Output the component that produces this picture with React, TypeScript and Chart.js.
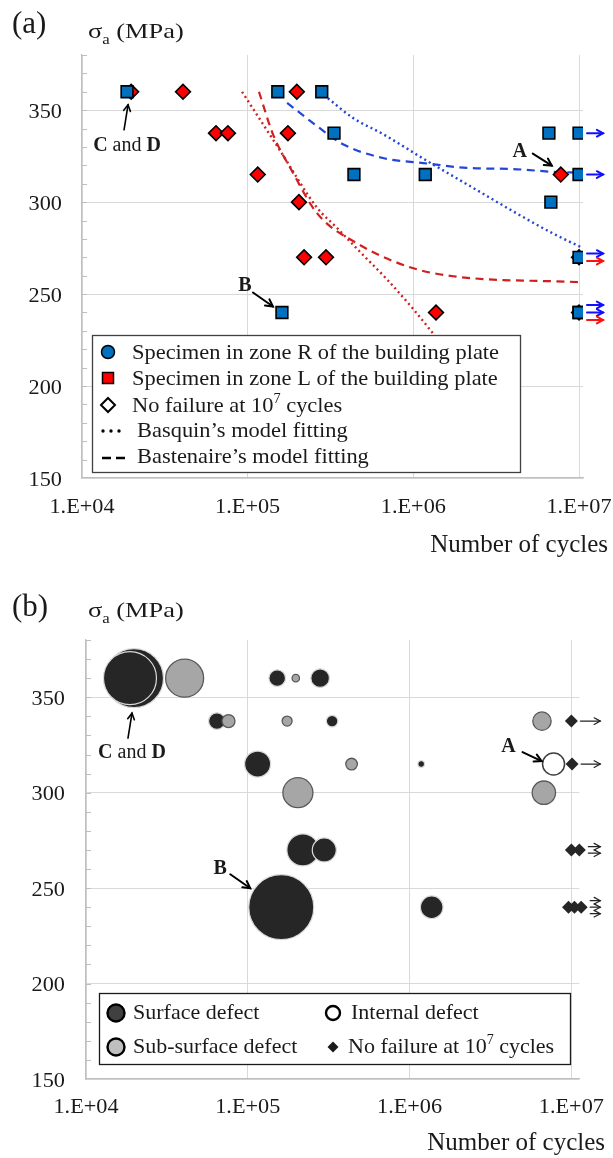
import React, { useEffect, useRef } from 'react';
import { Chart, registerables } from 'chart.js';
Chart.register(...registerables);

// ---------------- Chart (a) data ----------------
const zoneRCycles = [1.87e4, 1.52e5, 2.8e5, 3.32e5, 4.38e5, 1.18e6, 6.58e6, 6.76e6, 1.61e5, 1e7, 1e7, 1e7, 1e7, 1e7];
const zoneRStress = [360, 360, 360, 337.5, 315, 315, 337.5, 300, 240, 337.5, 315, 270, 240, 240];
const zoneLCycles = [1.98e4, 4.07e4, 6.44e4, 7.6e4, 1.15e5, 1.75e5, 1.98e5, 2.04e5, 2.19e5, 2.97e5, 1.37e6, 7.76e6, 1e7, 1e7];
const zoneLStress = [360, 360, 337.5, 337.5, 315, 337.5, 360, 300, 270, 270, 240, 315, 270, 240];

const basquinRCycles = [3.05e5, 4.33e5, 6.56e5, 1.21e6, 2.29e6, 4.22e6, 6.95e6, 1.055e7];
const basquinRStress = [356.5, 345.7, 337, 322.4, 307.8, 293.8, 283, 275];
const bastenaireRCycles = [1.73e5, 2.48e5, 3.76e5, 6.55e5, 1.21e6, 2.1e6, 4.0e6, 6.9e6, 1.0e7];
const bastenaireRStress = [354, 343, 331.5, 324, 321, 318.6, 318, 316.5, 316];
const basquinLCycles = [9.25e4, 1.57e5, 2.62e5, 3.46e5, 4.76e5, 6.93e5, 9.95e5, 1.29e6, 1.9e6];
const basquinLStress = [360, 328, 297, 286, 273, 258, 242, 229.5, 210];
const bastenaireLCycles = [1.17e5, 1.42e5, 1.85e5, 2.62e5, 4.57e5, 9.55e5, 1.74e6, 1.0e7];
const bastenaireLStress = [360, 337, 317, 294, 277.6, 264.6, 259.7, 256.5];

const RUNOUT_CYCLES = 1e7;

// ---------------- Chart (b) data ----------------
const surfaceCycles = [1.98e4, 1.87e4, 1.52e5, 2.8e5, 6.44e4, 3.32e5, 1.15e5, 1.18e6, 2.19e5, 2.97e5, 1.61e5, 1.37e6];
const surfaceStress = [360, 360, 360, 360, 337.5, 337.5, 315, 315, 270, 270, 240, 240];
const surfaceDefect = [29.5, 26.5, 8.3, 9.3, 8.3, 5.8, 13, 3.3, 16, 12, 32.5, 11.3];
const subSurfaceCycles = [4.07e4, 1.98e5, 7.6e4, 1.75e5, 6.58e6, 4.38e5, 2.04e5, 6.76e6];
const subSurfaceStress = [360, 360, 337.5, 337.5, 337.5, 315, 300, 300];
const subSurfaceDefect = [19, 3.7, 6.5, 5, 9.2, 5.8, 15, 11.7];
const internalCycles = [7.76e6];
const internalStress = [315];
const internalDefect = [11];
const noFailureCycles = [1.0e7, 1.01e7, 1.0e7, 1.12e7, 9.6e6, 1.045e7, 1.15e7];
const noFailureStress = [337.5, 315, 270, 270, 240, 240, 240];

// ---------------- axes / labels ----------------
const xTickValues = [1e4, 1e5, 1e6, 1e7];
const xTickLabels = ['1.E+04', '1.E+05', '1.E+06', '1.E+07'];
const yTickValues = [150, 200, 250, 300, 350];
const Y_MIN = 150;
const Y_MAX = 380;
const Y_MINOR_STEP = 10;
const X_TITLE = 'Number of cycles';

const legendALabels = [
  'Specimen in zone R of the building plate',
  'Specimen in zone L of the building plate',
  'No failure at 10',
  'Basquin\u2019s model fitting',
  'Bastenaire\u2019s model fitting',
];
const legendBLabels = ['Surface defect', 'Sub-surface defect', 'Internal defect', 'No failure at 10'];

const anchorCD = { x: 1.87e4, y: 360 };
const anchorA = { x: 7.76e6, y: 315 };
const anchorB = { x: 1.61e5, y: 240 };

// ---------------- helpers ----------------
const FONT = '"Liberation Serif", "Times New Roman", Times, serif';
const TEXT = '#1a1a1a';
const pts = (xs: number[], ys: number[]) => xs.map((x, i) => ({ x, y: ys[i] }));
const bub = (xs: number[], ys: number[], rs: number[]) => xs.map((x, i) => ({ x, y: ys[i], r: rs[i] }));

type Seg = { t: string; b?: boolean; sub?: boolean; sup?: boolean };

function drawRich(ctx: any, segs: Seg[], x: number, y: number, size: number, align = 'left', sx = 1, color = TEXT) {
  const fontFor = (s: Seg) => `${s.b ? 'bold ' : ''}${s.sub || s.sup ? Math.round(size * 0.64) : size}px ${FONT}`;
  ctx.save();
  ctx.fillStyle = color;
  ctx.textBaseline = 'alphabetic';
  ctx.textAlign = 'left';
  let total = 0;
  for (const s of segs) {
    ctx.font = fontFor(s);
    total += ctx.measureText(s.t).width;
  }
  total *= sx;
  let cx = align === 'left' ? x : align === 'center' ? x - total / 2 : x - total;
  for (const s of segs) {
    ctx.font = fontFor(s);
    const w = ctx.measureText(s.t).width;
    const dy = s.sub ? size * 0.27 : s.sup ? -size * 0.4 : 0;
    ctx.save();
    ctx.translate(cx, y + dy);
    ctx.scale(sx, 1);
    ctx.fillText(s.t, 0, 0);
    ctx.restore();
    cx += w * sx;
  }
  ctx.restore();
}

function arrow(ctx: any, x1: number, y1: number, x2: number, y2: number, color: string, lw: number, head: number) {
  ctx.save();
  ctx.strokeStyle = color;
  ctx.lineWidth = lw;
  ctx.lineCap = 'round';
  ctx.lineJoin = 'miter';
  ctx.setLineDash([]);
  ctx.beginPath();
  ctx.moveTo(x1, y1);
  ctx.lineTo(x2, y2);
  ctx.stroke();
  const a = Math.atan2(y2 - y1, x2 - x1);
  ctx.beginPath();
  ctx.moveTo(x2 - head * Math.cos(a - 0.5), y2 - head * Math.sin(a - 0.5));
  ctx.lineTo(x2, y2);
  ctx.lineTo(x2 - head * Math.cos(a + 0.5), y2 - head * Math.sin(a + 0.5));
  ctx.stroke();
  ctx.restore();
}

function P(chart: any, p: { x: number; y: number }) {
  return [chart.scales.x.getPixelForValue(p.x), chart.scales.y.getPixelForValue(p.y)];
}

function drawMinorTicks(chart: any) {
  const { ctx, chartArea: ca, scales } = chart;
  ctx.save();
  ctx.strokeStyle = '#bfbfbf';
  ctx.lineWidth = 1;
  for (let v = Y_MIN + Y_MINOR_STEP; v <= Y_MAX; v += Y_MINOR_STEP) {
    const y = Math.round(scales.y.getPixelForValue(v)) + 0.5;
    ctx.beginPath();
    ctx.moveTo(ca.left, y);
    ctx.lineTo(ca.left + 5, y);
    ctx.stroke();
  }
  ctx.restore();
}

function drawTickLabels(chart: any, yPad: number, xBase: number) {
  const { ctx, chartArea: ca, scales } = chart;
  for (const v of yTickValues) {
    drawRich(ctx, [{ t: String(v) }], ca.left - yPad, scales.y.getPixelForValue(v) + 7.5, 21, 'right', 1.06);
  }
  xTickValues.forEach((v, i) => {
    drawRich(ctx, [{ t: xTickLabels[i] }], scales.x.getPixelForValue(v), ca.bottom + xBase, 21, 'center', 1.06);
  });
}

function xScale(max: number, height: number) {
  return {
    type: 'logarithmic',
    min: 1e4,
    max,
    afterBuildTicks: (s: any) => {
      s.ticks = xTickValues.map((v) => ({ value: v }));
    },
    afterFit: (s: any) => {
      s.height = height;
    },
    ticks: { display: false },
    grid: { color: '#d9d9d9', lineWidth: 1, drawTicks: false },
    border: { display: true, color: '#bfbfbf', width: 1.3 },
  };
}
function yScale(width: number) {
  return {
    type: 'linear',
    min: Y_MIN,
    max: Y_MAX,
    afterFit: (s: any) => {
      s.width = width;
    },
    ticks: { display: false, stepSize: 50, includeBounds: false },
    grid: { color: '#d9d9d9', lineWidth: 1, drawTicks: false },
    border: { display: true, color: '#bfbfbf', width: 1.3 },
  };
}

// ---------------- Chart (a) ----------------
const BLUE_LINE = '#2346d6';
const RED_LINE = '#cf1f1f';

const pluginA = {
  id: 'decorA',
  beforeDatasetsDraw(chart: any) {
    drawMinorTicks(chart);
  },
  afterDatasetsDraw(chart: any) {
    const ctx = chart.ctx;
    // run-out arrows
    const groups: Record<string, { y: number; colors: string[]; x: number }> = {};
    const add = (xs: number[], ys: number[], color: string) => {
      xs.forEach((x, i) => {
        if (x >= RUNOUT_CYCLES) {
          const k = String(ys[i]);
          if (!groups[k]) groups[k] = { y: ys[i], colors: [], x };
          groups[k].colors.push(color);
        }
      });
    };
    add(zoneRCycles, zoneRStress, '#1010ff');
    add(zoneLCycles, zoneLStress, '#ff1010');
    Object.values(groups).forEach((g) => {
      const [px, py] = P(chart, { x: g.x, y: g.y });
      const n = g.colors.length;
      g.colors.forEach((c, i) => {
        const yy = py + (i - (n - 1) / 2) * 7.5;
        arrow(ctx, px + 8, yy, px + 24, yy, c, 2, 7);
      });
    });
    // legend
    const L = 92, T = 335, R = 520, B = 472;
    ctx.save();
    ctx.fillStyle = '#fff';
    ctx.fillRect(L, T, R - L, B - T);
    ctx.strokeStyle = '#404040';
    ctx.lineWidth = 1.3;
    ctx.strokeRect(L + 0.5, T + 0.5, R - L, B - T);
    const base = [359, 385, 412, 437, 463];
    const sx = 108;
    // circle
    ctx.beginPath();
    ctx.arc(sx, 352, 6.5, 0, Math.PI * 2);
    ctx.fillStyle = '#0070c0';
    ctx.fill();
    ctx.lineWidth = 1.5;
    ctx.strokeStyle = '#000';
    ctx.stroke();
    // square
    ctx.fillStyle = '#ff0000';
    ctx.fillRect(sx - 5.5, 378 - 5.5, 11, 11);
    ctx.strokeRect(sx - 5.5, 378 - 5.5, 11, 11);
    // diamond
    ctx.beginPath();
    ctx.moveTo(sx, 405 - 7);
    ctx.lineTo(sx + 7, 405);
    ctx.lineTo(sx, 405 + 7);
    ctx.lineTo(sx - 7, 405);
    ctx.closePath();
    ctx.fillStyle = '#fff';
    ctx.fill();
    ctx.lineWidth = 2;
    ctx.stroke();
    // dots
    ctx.fillStyle = '#000';
    [103, 111, 119].forEach((x) => {
      ctx.beginPath();
      ctx.arc(x, 431, 1.7, 0, Math.PI * 2);
      ctx.fill();
    });
    // dashes
    ctx.lineWidth = 2.4;
    ctx.beginPath();
    ctx.moveTo(102, 458);
    ctx.lineTo(111, 458);
    ctx.moveTo(116, 458);
    ctx.lineTo(125, 458);
    ctx.stroke();
    ctx.restore();
    drawRich(ctx, [{ t: legendALabels[0] }], 132, base[0], 22, 'left', 1.02);
    drawRich(ctx, [{ t: legendALabels[1] }], 132, base[1], 22, 'left', 1.02);
    drawRich(ctx, [{ t: legendALabels[2] }, { t: '7', sup: true }, { t: ' cycles' }], 132, base[2], 22, 'left', 1.02);
    drawRich(ctx, [{ t: legendALabels[3] }], 137, base[3], 22, 'left', 1.02);
    drawRich(ctx, [{ t: legendALabels[4] }], 137, base[4], 22, 'left', 1.02);
  },
  afterDraw(chart: any) {
    const ctx = chart.ctx;
    drawTickLabels(chart, 20, 35);
    drawRich(ctx, [{ t: X_TITLE }], 608, 552, 25, 'right');
    drawRich(ctx, [{ t: '(a)' }], 12, 33, 31);
    drawRich(ctx, [{ t: '\u03c3' }, { t: 'a', sub: true }, { t: ' (MPa)' }], 88, 38, 22, 'left', 1.2);
    // annotations
    let [cx, cy] = P(chart, anchorCD);
    arrow(ctx, cx - 3, cy + 38, cx + 1, cy + 13, '#000', 1.6, 7);
    drawRich(ctx, [{ t: 'C', b: true }, { t: ' and ' }, { t: 'D', b: true }], cx, cy + 59, 20, 'center');
    [cx, cy] = P(chart, anchorA);
    arrow(ctx, cx - 28, cy - 21, cx - 9, cy - 9, '#000', 2, 8);
    drawRich(ctx, [{ t: 'A', b: true }], cx - 41, cy - 18, 20, 'center');
    [cx, cy] = P(chart, anchorB);
    arrow(ctx, cx - 29, cy - 20, cx - 9, cy - 6, '#000', 2, 8);
    drawRich(ctx, [{ t: 'B', b: true }], cx - 37, cy - 21, 20, 'center');
  },
};

function configA(): any {
  const curve = (data: any, color: string, dash: number[], w: number, order: number) => ({
    data,
    showLine: true,
    pointRadius: 0,
    borderColor: color,
    borderWidth: w,
    borderDash: dash,
    borderCapStyle: 'butt',
    cubicInterpolationMode: 'monotone',
    fill: false,
    order,
  });
  return {
    type: 'scatter',
    data: {
      datasets: [
        {
          label: 'Zone R',
          data: pts(zoneRCycles, zoneRStress),
          pointStyle: 'rect',
          pointRadius: 8.3,
          backgroundColor: '#0070c0',
          borderColor: '#000',
          borderWidth: 1.6,
          order: 0,
        },
        {
          label: 'Zone L',
          data: pts(zoneLCycles, zoneLStress),
          pointStyle: 'rectRot',
          pointRadius: 7.4,
          backgroundColor: '#ff0000',
          borderColor: '#000',
          borderWidth: 1.6,
          order: 1,
        },
        curve(pts(basquinRCycles, basquinRStress), BLUE_LINE, [2, 3.2], 2.4, 2),
        curve(pts(bastenaireRCycles, bastenaireRStress), BLUE_LINE, [8, 5.5], 2.2, 3),
        curve(pts(basquinLCycles, basquinLStress), RED_LINE, [2, 3.2], 2.4, 4),
        curve(pts(bastenaireLCycles, bastenaireLStress), RED_LINE, [8, 5.5], 2.2, 5),
      ],
    },
    options: {
      responsive: false,
      maintainAspectRatio: false,
      animation: false,
      devicePixelRatio: 1,
      layout: { padding: { top: 55, right: 30, bottom: 0, left: 0 } },
      plugins: { legend: { display: false }, tooltip: { enabled: false } },
      scales: { x: xScale(Math.pow(10, 7.024), 82), y: yScale(82) },
    },
    plugins: [pluginA],
  };
}

// ---------------- Chart (b) ----------------
const pluginB = {
  id: 'decorB',
  beforeDatasetsDraw(chart: any) {
    drawMinorTicks(chart);
  },
  afterDatasetsDraw(chart: any) {
    const ctx = chart.ctx;
    // run-out arrows
    const groups: Record<string, { y: number; maxX: number; n: number }> = {};
    noFailureCycles.forEach((x, i) => {
      const k = String(noFailureStress[i]);
      if (!groups[k]) groups[k] = { y: noFailureStress[i], maxX: x, n: 0 };
      groups[k].maxX = Math.max(groups[k].maxX, x);
      groups[k].n += 1;
    });
    Object.values(groups).forEach((g) => {
      const [px, py] = P(chart, { x: g.maxX, y: g.y });
      for (let i = 0; i < g.n; i++) {
        const yy = py + (i - (g.n - 1) / 2) * 6.5;
        arrow(ctx, px + 9, yy, chart.chartArea.right + 21, yy, '#222', 1.2, 7);
      }
    });
    // legend
    const L = 99, T = 433, R = 570, B = 504;
    ctx.save();
    ctx.fillStyle = '#fff';
    ctx.fillRect(L, T, R - L, B - T);
    ctx.strokeStyle = '#1a1a1a';
    ctx.lineWidth = 1.3;
    ctx.strokeRect(L + 0.5, T + 0.5, R - L, B - T);
    const circ = (x: number, y: number, r: number, fill: string) => {
      ctx.beginPath();
      ctx.arc(x, y, r, 0, Math.PI * 2);
      ctx.fillStyle = fill;
      ctx.fill();
      ctx.lineWidth = 2.4;
      ctx.strokeStyle = '#000';
      ctx.stroke();
    };
    circ(116, 453, 8.5, '#404040');
    circ(116, 487, 8.5, '#bfbfbf');
    circ(333, 453, 7, '#ffffff');
    ctx.beginPath();
    ctx.moveTo(333, 487 - 5.5);
    ctx.lineTo(333 + 5.5, 487);
    ctx.lineTo(333, 487 + 5.5);
    ctx.lineTo(333 - 5.5, 487);
    ctx.closePath();
    ctx.fillStyle = '#1a1a1a';
    ctx.fill();
    ctx.restore();
    drawRich(ctx, [{ t: legendBLabels[0] }], 133, 459, 22, 'left', 1.0);
    drawRich(ctx, [{ t: legendBLabels[1] }], 133, 493, 22, 'left', 1.0);
    drawRich(ctx, [{ t: legendBLabels[2] }], 351, 459, 22, 'left', 1.0);
    drawRich(ctx, [{ t: legendBLabels[3] }, { t: '7', sup: true }, { t: ' cycles' }], 348, 493, 22, 'left', 1.0);
  },
  afterDraw(chart: any) {
    const ctx = chart.ctx;
    drawTickLabels(chart, 21, 34);
    drawRich(ctx, [{ t: X_TITLE }], 605, 590, 25, 'right');
    drawRich(ctx, [{ t: '(b)' }], 12, 56, 31);
    drawRich(ctx, [{ t: '\u03c3' }, { t: 'a', sub: true }, { t: ' (MPa)' }], 88, 57, 22, 'left', 1.2);
    let [cx, cy] = P(chart, anchorCD);
    arrow(ctx, cx - 2, cy + 60, cx + 2, cy + 35, '#000', 1.6, 7);
    drawRich(ctx, [{ t: 'C', b: true }, { t: ' and ' }, { t: 'D', b: true }], cx + 2, cy + 80, 20, 'center');
    [cx, cy] = P(chart, anchorA);
    arrow(ctx, cx - 31, cy - 12, cx - 12, cy - 3, '#000', 2, 8);
    drawRich(ctx, [{ t: 'A', b: true }], cx - 45, cy - 12, 20, 'center');
    [cx, cy] = P(chart, anchorB);
    arrow(ctx, cx - 51, cy - 33, cx - 31, cy - 19, '#000', 2, 8);
    drawRich(ctx, [{ t: 'B', b: true }], cx - 61, cy - 33, 20, 'center');
  },
};

function configB(): any {
  return {
    type: 'bubble',
    data: {
      datasets: [
        {
          label: 'No failure',
          data: bub(noFailureCycles, noFailureStress, noFailureCycles.map(() => 6.5)),
          pointStyle: 'rectRot',
          backgroundColor: '#262626',
          borderColor: '#262626',
          borderWidth: 0,
          clip: false,
          order: 0,
        },
        {
          label: 'Internal defect',
          data: bub(internalCycles, internalStress, internalDefect),
          backgroundColor: '#ffffff',
          borderColor: '#404040',
          borderWidth: 1.5,
          order: 1,
        },
        {
          label: 'Sub-surface defect',
          data: bub(subSurfaceCycles, subSurfaceStress, subSurfaceDefect),
          backgroundColor: '#a6a6a6',
          borderColor: '#595959',
          borderWidth: 1.3,
          order: 2,
        },
        {
          label: 'Surface defect',
          data: bub(surfaceCycles, surfaceStress, surfaceDefect),
          backgroundColor: '#262626',
          borderColor: '#d9d9d9',
          borderWidth: 1.2,
          order: 3,
        },
      ],
    },
    options: {
      responsive: false,
      maintainAspectRatio: false,
      animation: false,
      devicePixelRatio: 1,
      layout: { padding: { top: 80, right: 26, bottom: 0, left: 0 } },
      plugins: { legend: { display: false }, tooltip: { enabled: false } },
      scales: { x: xScale(Math.pow(10, 7.049), 79), y: yScale(86) },
    },
    plugins: [pluginB],
  };
}

export default function App() {
  const refA = useRef<HTMLCanvasElement>(null);
  const refB = useRef<HTMLCanvasElement>(null);
  useEffect(() => {
    const a = new Chart(refA.current as HTMLCanvasElement, configA());
    const b = new Chart(refB.current as HTMLCanvasElement, configB());
    return () => {
      a.destroy();
      b.destroy();
    };
  }, []);
  return (
    <div style={{ position: 'absolute', left: 0, top: 0, width: 613, height: 1158, background: '#fff' }}>
      <canvas ref={refA} width={613} height={560} style={{ position: 'absolute', left: 0, top: 0, width: 613, height: 560 }} />
      <canvas ref={refB} width={613} height={598} style={{ position: 'absolute', left: 0, top: 560, width: 613, height: 598 }} />
    </div>
  );
}
